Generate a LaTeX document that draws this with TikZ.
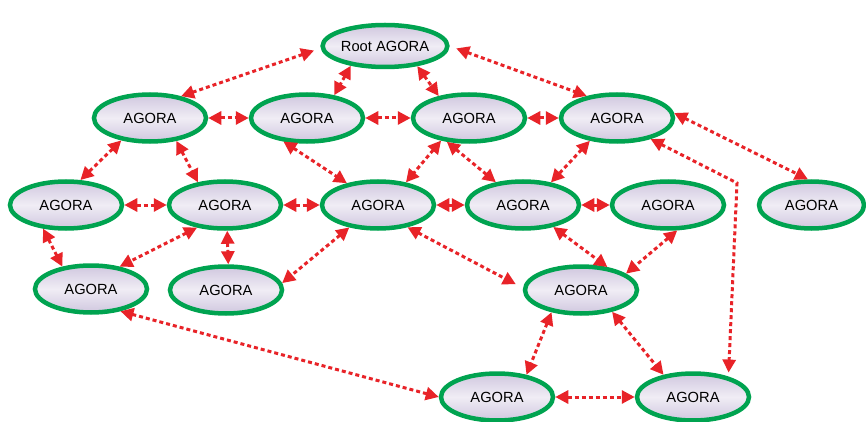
\documentclass[tikz,border=0pt]{standalone}
\usepackage{fontspec}
\setmainfont{Liberation Sans}
\usetikzlibrary{arrows.meta,shapes.geometric}

\definecolor{agoragreen}{RGB}{0,163,80}
\definecolor{linkred}{RGB}{232,35,40}
\definecolor{lavdark}{RGB}{208,199,223}
\definecolor{lavlight}{RGB}{240,237,245}

\tikzset{
  agora/.style={ellipse, draw=agoragreen, line width=4.5pt,
    top color=lavdark, bottom color=lavdark, middle color=lavlight,
    minimum width=112pt, minimum height=47pt, inner sep=0pt,
    font=\fontsize{14.7}{17}\selectfont},
  link/.style={draw=linkred, line width=3pt, dash pattern=on 4pt off 3pt,
    {Triangle[length=13pt,width=13pt]}-{Triangle[length=13pt,width=13pt]}},
}

\begin{document}
\begin{tikzpicture}[x=1pt,y=-1pt]
\useasboundingbox (0,0) rectangle (866,422);

% nodes
\node[agora, minimum width=114pt, minimum height=42pt] (root) at (385,46) {Root AGORA};

\node[agora] (a1) at (150,118) {AGORA};
\node[agora] (a2) at (307,118) {AGORA};
\node[agora] (a3) at (469,118) {AGORA};
\node[agora] (a4) at (617,118) {AGORA};

\node[agora] (b1) at (66,205) {AGORA};
\node[agora] (b2) at (225,205) {AGORA};
\node[agora] (b3) at (378,205) {AGORA};
\node[agora] (b4) at (523,205) {AGORA};
\node[agora] (b5) at (668,205) {AGORA};
\node[agora, minimum width=105pt] (b6) at (811.5,205) {AGORA};

\node[agora] (c1) at (91,289) {AGORA};
\node[agora] (c2) at (226,290) {AGORA};
\node[agora] (c3) at (581,290) {AGORA};

\node[agora] (d1) at (497,397) {AGORA};
\node[agora] (d2) at (693,397) {AGORA};

\coordinate (bend) at (737,183);

% links
\draw[link, shorten >=7pt] (a1.35) -- (root.182);
\draw[link, shorten <=7pt] (root.0) -- (a4.144);
\draw[link] (root.210) -- (a2.40);
\draw[link] (root.328) -- (a3.144);

\draw[link] (a1.east) -- (a2.west);
\draw[link] (a2.east) -- (a3.west);
\draw[link] (a3.east) -- (a4.west);

\draw[link] (a1.218) -- (b1.60);
\draw[link] (a1.319) -- (b2.140);
\draw[link] (a2.225) -- (b3.145);
\draw[link] (a3.219) -- (b3.39);
\draw[link] (a3.227) -- (b4.140);
\draw[link] (a4.220) -- (b4.39);
\draw[link] (a4.5) -- (b6.98);
\draw[link, shorten >=4pt] (a4.328) -- (bend) -- (d2.30);

\draw[link] (b1.east) -- (b2.west);
\draw[link] (b2.east) -- (b3.west);
\draw[link] (b3.east) -- (b4.west);
\draw[link] (b4.east) -- (b5.west);

\draw[link] (b1.226) -- (c1.142);
\draw[link] (b2.219) -- (c1.38);
\draw[link] (b2.-85) -- (c2.85);
\draw[link] (b3.218) -- (c2.7);
\draw[link, shorten >=8pt] (b3.323) -- (c3.178);
\draw[link] (b4.324) -- (c3.41);
\draw[link] (b5.290) -- (c3.20);

\draw[link] (c1.323) -- (d1.180);
\draw[link] (c3.217) -- (d1.37);
\draw[link] (c3.325) -- (d2.143);

\draw[link] (d1.east) -- (d2.west);
\end{tikzpicture}
\end{document}
